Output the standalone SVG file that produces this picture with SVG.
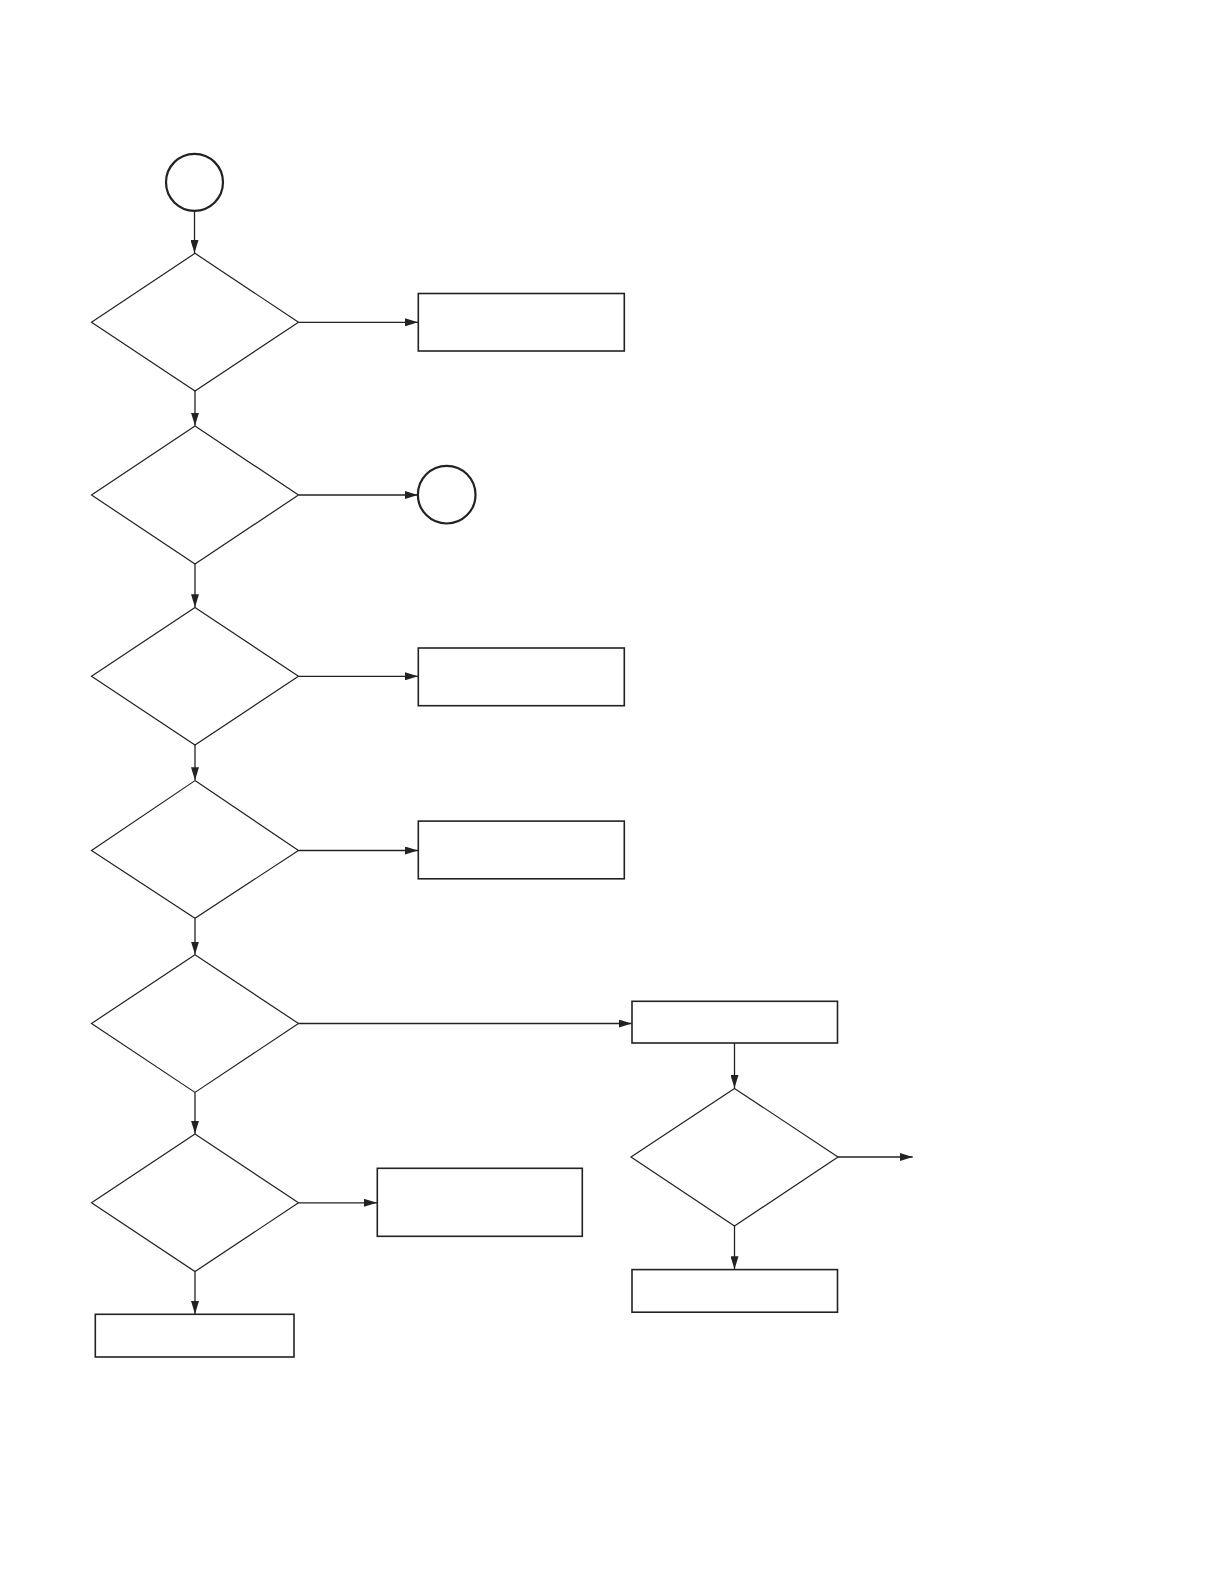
<svg xmlns="http://www.w3.org/2000/svg" width="1219" height="1587" viewBox="0 0 1219 1587">
  <defs>
    <marker id="arr" markerUnits="userSpaceOnUse" markerWidth="13" markerHeight="8" refX="13" refY="4" orient="auto">
      <path d="M0,0 L13,4 L0,8 z" fill="#222"/>
    </marker>
    <style>
      .dec { fill: #fff; stroke: #222; stroke-width: 1.2; }
      .box { fill: #fff; stroke: #222; stroke-width: 1.6; }
      .term { fill: #fff; stroke: #222; stroke-width: 2.2; }
      .con { fill: none; stroke: #222; stroke-width: 1.3; marker-end: url(#arr); }
    </style>
  </defs>
  <rect width="1219" height="1587" fill="#fff"/>

  <g id="start"><circle class="term" cx="194.5" cy="182.3" r="28.5"/></g>

  <g id="d1"><polygon class="dec" points="195,253.3 298.5,322.3 195,391 91.5,322.3"/></g>
  <g id="r1"><rect class="box" x="418.3" y="293.5" width="206" height="57.5"/></g>

  <g id="d2"><polygon class="dec" points="195,426 298.5,495 195,564 91.5,495"/></g>
  <g id="c2"><circle class="term" cx="446.7" cy="494.7" r="28.8"/></g>

  <g id="d3"><polygon class="dec" points="195,607.5 298.5,676.3 195,745 91.5,676.3"/></g>
  <g id="r3"><rect class="box" x="418.3" y="648" width="206" height="57.7"/></g>

  <g id="d4"><polygon class="dec" points="195,780.6 298.5,850.5 195,918.3 91.5,850.5"/></g>
  <g id="r4"><rect class="box" x="418.3" y="821.1" width="206" height="57.7"/></g>

  <g id="d5"><polygon class="dec" points="195,954.8 298.5,1023.5 195,1092.4 91.5,1023.5"/></g>
  <g id="r5"><rect class="box" x="632" y="1001.3" width="205.5" height="41.7"/></g>

  <g id="d6"><polygon class="dec" points="195,1134 298.5,1202.8 195,1271.6 91.5,1202.8"/></g>
  <g id="r6"><rect class="box" x="377.3" y="1168.3" width="205" height="68"/></g>

  <g id="r7"><rect class="box" x="95.3" y="1314.3" width="198.7" height="42.7"/></g>

  <g id="d7"><polygon class="dec" points="734.5,1088.4 838,1157 734.5,1226 631,1157"/></g>
  <g id="r8"><rect class="box" x="632" y="1269.6" width="205.5" height="42.6"/></g>

  <g id="connectors">
    <line class="con" x1="194.5" y1="210.8" x2="194.5" y2="253"/>
    <line class="con" x1="298.5" y1="322.3" x2="418" y2="322.3"/>
    <line class="con" x1="195" y1="391" x2="195" y2="425.7"/>
    <line class="con" x1="298.5" y1="495" x2="417.7" y2="495"/>
    <line class="con" x1="195" y1="564" x2="195" y2="607.2"/>
    <line class="con" x1="298.5" y1="676.3" x2="418" y2="676.3"/>
    <line class="con" x1="195" y1="745" x2="195" y2="780.3"/>
    <line class="con" x1="298.5" y1="850.5" x2="418" y2="850.5"/>
    <line class="con" x1="195" y1="918.3" x2="195" y2="954.5"/>
    <line class="con" x1="298.5" y1="1023.5" x2="631.7" y2="1023.5"/>
    <line class="con" x1="195" y1="1092.4" x2="195" y2="1133.7"/>
    <line class="con" x1="298.5" y1="1202.8" x2="377" y2="1202.8"/>
    <line class="con" x1="195" y1="1271.6" x2="195" y2="1314"/>
    <line class="con" x1="734.5" y1="1043" x2="734.5" y2="1088.1"/>
    <line class="con" x1="838" y1="1157" x2="912.7" y2="1157"/>
    <line class="con" x1="734.5" y1="1226" x2="734.5" y2="1269.3"/>
  </g>
</svg>
